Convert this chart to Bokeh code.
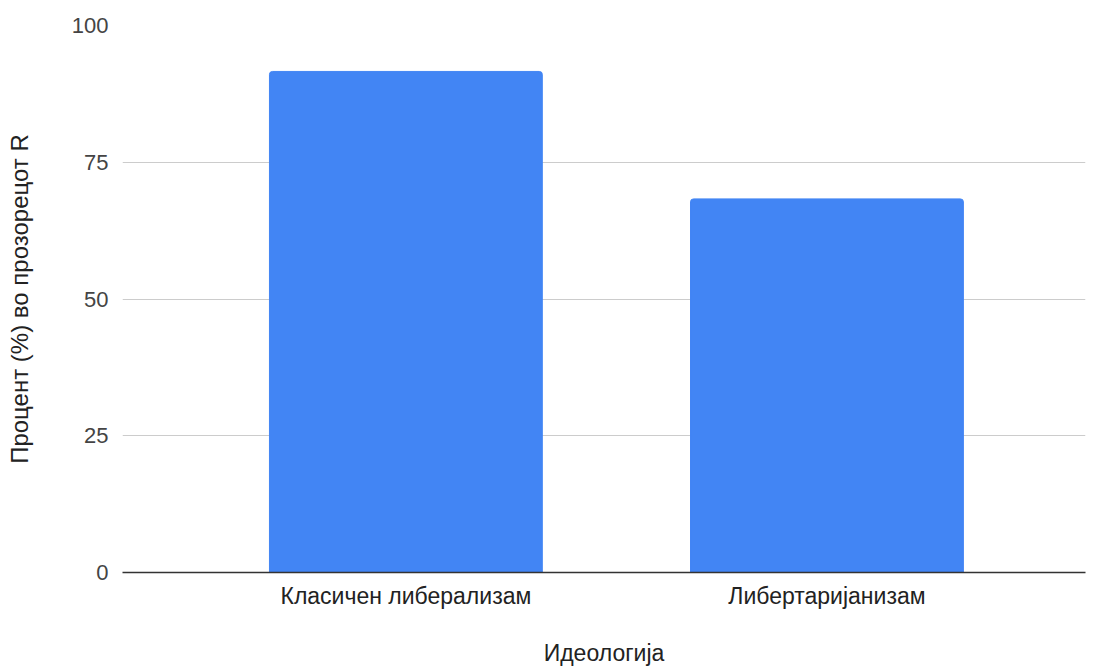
from bokeh.plotting import figure
from bokeh.models import Range1d, FixedTicker
from bokeh.embed import file_html
from bokeh.resources import INLINE

categories = ["Класичен либерализам", "Либертаријанизам"]
values = [91.6, 68.3]
y_ticks = [0, 25, 50, 75, 100]

xs = list(range(len(categories)))

p = figure(width=1091, height=669, output_backend="svg", toolbar_location=None,
           x_range=Range1d(-0.673, 1.614), y_range=Range1d(0, 100))
p.min_border_left = 122
p.min_border_top = 25
p.min_border_right = 6
p.min_border_bottom = 97
p.outline_line_color = None

p.vbar(x=xs, top=values, width=0.648, color="#4285F4", border_radius=[3, 3, 0, 0])

p.xaxis.ticker = FixedTicker(ticks=xs)
p.xaxis.major_label_overrides = {i: c for i, c in enumerate(categories)}
p.xaxis.major_tick_line_color = None
p.xaxis.minor_tick_line_color = None
p.xaxis.axis_line_color = "#333333"
p.xaxis.axis_line_width = 1.5
p.xaxis.major_label_text_font = "Liberation Sans"
p.xaxis.major_label_text_font_size = "23px"
p.xaxis.major_label_text_color = "#222222"
p.xaxis.major_label_standoff = 4
p.xaxis.axis_label = "Идеологија"
p.xaxis.axis_label_text_font = "Liberation Sans"
p.xaxis.axis_label_text_font_size = "23px"
p.xaxis.axis_label_text_font_style = "normal"
p.xaxis.axis_label_text_color = "#222222"
p.xaxis.axis_label_standoff = 28
p.xgrid.grid_line_color = None

p.yaxis.ticker = FixedTicker(ticks=y_ticks)
p.yaxis.major_tick_line_color = None
p.yaxis.minor_tick_line_color = None
p.yaxis.axis_line_color = None
p.yaxis.major_label_text_font = "Liberation Sans"
p.yaxis.major_label_text_font_size = "22px"
p.yaxis.major_label_text_color = "#444444"
p.yaxis.major_label_standoff = 8
p.yaxis.axis_label = "Процент (%) во прозорецот R"
p.yaxis.axis_label_text_font = "Liberation Sans"
p.yaxis.axis_label_text_font_size = "24px"
p.yaxis.axis_label_text_font_style = "normal"
p.yaxis.axis_label_text_color = "#222222"
p.yaxis.axis_label_standoff = 36
p.ygrid.ticker = FixedTicker(ticks=y_ticks)
p.ygrid.grid_line_color = "#cccccc"
p.ygrid.grid_line_width = 1

open("out.html", "w").write(file_html(p, INLINE))
